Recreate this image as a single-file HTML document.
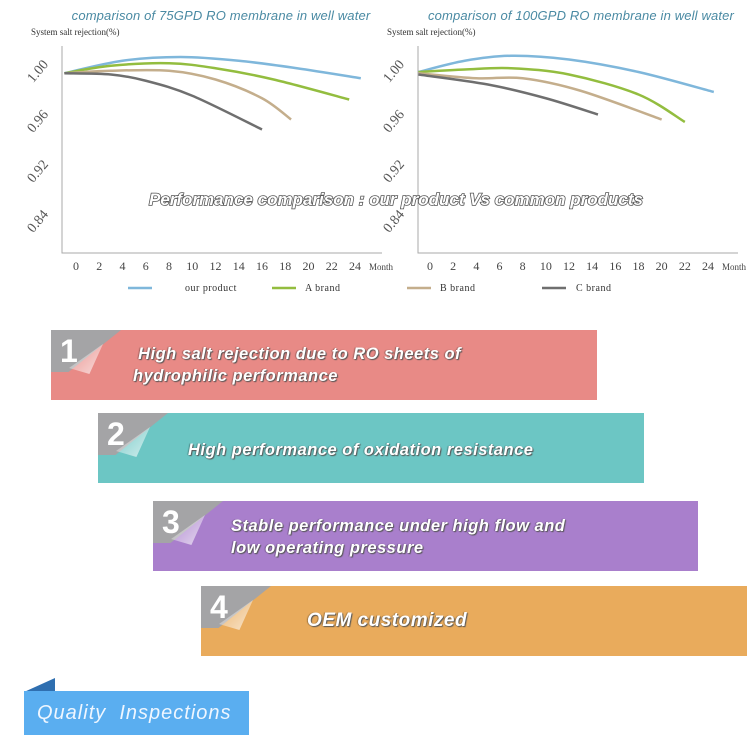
<!DOCTYPE html>
<html><head><meta charset="utf-8"><style>
body{margin:0;background:#fff;width:750px;height:749px;overflow:hidden;position:relative;font-family:"Liberation Sans",sans-serif}
svg{position:absolute;left:0;top:0}
.box{position:absolute;height:70px}
.tab{position:absolute;left:0;top:0;width:70px;height:42px;background:#a4a4a6;clip-path:polygon(0 0,100% 0,25% 100%,0 100%)}
.num{position:absolute;left:9px;top:3px;font:bold 32px "Liberation Sans",sans-serif;color:#fff}
.curl{position:absolute;left:18px;top:14px;width:34px;height:30px;background:linear-gradient(135deg,rgba(255,255,255,.1),rgba(255,255,255,.7));clip-path:polygon(100% 0,60% 100%,0 80%)}
.txt{position:absolute;color:#fff;font:italic bold 16.5px "Liberation Sans",sans-serif;letter-spacing:.5px;text-shadow:1px 1px 1px #555,-1px 0 1px rgba(0,0,0,.3);line-height:22px}
</style></head><body>
<svg id="chart" width="750" height="320"></svg>

<div class="box" style="left:51px;top:330px;width:546px;background:#e88a86"><div class="tab"></div><div class="num">1</div><div class="curl"></div><div class="txt" style="left:82px;top:13px">&nbsp;High salt rejection due to RO sheets of<br>hydrophilic performance</div></div>
<div class="box" style="left:98px;top:413px;width:546px;background:#6cc6c4"><div class="tab"></div><div class="num">2</div><div class="curl"></div><div class="txt" style="left:90px;top:26px">High performance of oxidation resistance</div></div>
<div class="box" style="left:153px;top:501px;width:545px;background:#a97fcc"><div class="tab"></div><div class="num">3</div><div class="curl"></div><div class="txt" style="left:78px;top:14px">Stable performance under high flow and<br>low operating pressure</div></div>
<div class="box" style="left:201px;top:586px;width:546px;background:#e9ab5c"><div class="tab"></div><div class="num">4</div><div class="curl"></div><div class="txt" style="left:106px;top:24px;font-size:19px">OEM customized</div></div>

<div style="position:absolute;left:24px;top:678px;width:31px;height:14px;background:#2f6fb0;clip-path:polygon(100% 0,100% 100%,0 100%)"></div>
<div style="position:absolute;left:24px;top:691px;width:225px;height:44px;background:#5aaef0"><span style="position:absolute;left:13px;top:11px;color:#eef6ff;font:italic 20px 'Liberation Sans',sans-serif;letter-spacing:1px">Quality&nbsp; Inspections</span></div>

<script>
const months=[0,2,4,6,8,10,12,14,16,18,20,22,24];
const yTicks=["1.00","0.96","0.92","0.84"];
const seriesNames=["our product","A brand","B brand","C brand"];
const colors=["#7fb7db","#93bd3f","#c4ae8c","#6f6f6f"];
// left chart (75GPD): [month, rejection]
const left75Our=[[-1,0.999],[4,1.009],[9,1.012],[14,1.009],[19,1.003],[24.5,0.995]];
const left75A=[[-1,0.999],[3,1.005],[8,1.007],[12,1.003],[17,0.994],[23.5,0.978]];
const left75B=[[-1,0.999],[3,1.001],[8,1.001],[12,0.994],[16,0.979],[18.5,0.962]];
const left75C=[[-1,0.999],[3,0.998],[6,0.993],[10,0.981],[16,0.954]];
// right chart (100GPD)
const right100Our=[[-1,1.000],[3,1.009],[7,1.013],[12,1.010],[18,1.000],[24.5,0.984]];
const right100A=[[-1,1.000],[3,1.002],[7,1.003],[12,0.998],[18,0.982],[22,0.960]];
const right100B=[[-1,0.999],[4,0.995],[8,0.995],[13,0.985],[20,0.962]];
const right100C=[[-1,0.998],[5,0.990],[10,0.979],[14.5,0.966]];
const panels=[
 {title:"comparison of 75GPD RO membrane in well water",ax:62,x0:76,x24:355,titleX:221,data:[left75Our,left75A,left75B,left75C]},
 {title:"comparison of 100GPD RO membrane in well water",ax:418,x0:430,x24:708,titleX:581,data:[right100Our,right100A,right100B,right100C]}
];
const NS="http://www.w3.org/2000/svg";
const svg=document.getElementById('chart');
function mk(t,a,txt){const e=document.createElementNS(NS,t);for(const k in a)e.setAttribute(k,a[k]);if(txt!==undefined)e.textContent=txt;svg.appendChild(e);return e;}
function yScale(v){return 72+(1.0-v)*1250;}
function path(pts){
 let d="M"+pts[0][0]+","+pts[0][1];
 for(let i=0;i<pts.length-1;i++){
  const p0=pts[i-1]||pts[i],p1=pts[i],p2=pts[i+1],p3=pts[i+2]||p2;
  const c1=[p1[0]+(p2[0]-p0[0])/6,p1[1]+(p2[1]-p0[1])/6],c2=[p2[0]-(p3[0]-p1[0])/6,p2[1]-(p3[1]-p1[1])/6];
  d+=" C"+c1+" "+c2+" "+p2;
 }
 return d;
}
panels.forEach((p,pi)=>{
 const xs=m=>p.x0+(p.x24-p.x0)*m/24;
 let t=mk('text',{x:p.titleX,y:20,'text-anchor':'middle','font-size':13,'font-style':'italic',fill:'#4a8aa3','font-family':'Liberation Sans, sans-serif','letter-spacing':'0.15'},p.title);
 
 t=mk('text',{x:p.ax-31,y:35,'font-size':9,fill:'#333','font-family':'Liberation Serif, serif'},"System salt rejection(%)");
 
 let a=mk('path',{d:`M${p.ax},46V253H${p.ax+320}`,stroke:'#aaa','stroke-width':1,fill:'none'});
 
 yTicks.forEach((lb,i)=>{const y=74+i*50;
  const e=mk('text',{x:p.ax-21,y:y,'font-size':14,fill:'#555','text-anchor':'middle','font-family':'Liberation Serif, serif',transform:`rotate(-50 ${p.ax-21} ${y})`},lb);
  });
 months.forEach(m=>{const e=mk('text',{x:xs(m),y:270,'font-size':12,fill:'#444','text-anchor':'middle','font-family':'Liberation Serif, serif'},m);
  });
 const u=mk('text',{x:xs(24)+14,y:270,'font-size':9,fill:'#444','font-family':'Liberation Serif, serif'},"Month");
 
 p.data.forEach((s,si)=>{const pts=s.map(d=>[xs(d[0]),yScale(d[1])]);
  const e=mk('path',{d:path(pts),stroke:colors[si],'stroke-width':2.5,fill:'none'});
  });
});
const legX=[128,272,407,542],legT=[185,305,440,576];
seriesNames.forEach((n,i)=>{
 const l=mk('line',{x1:legX[i],x2:legX[i]+24,y1:288,y2:288,stroke:colors[i],'stroke-width':2.5});
 
 const t=mk('text',{x:legT[i],y:291,'font-size':10,fill:'#333','font-family':'Liberation Serif, serif','letter-spacing':'0.5'},n);
 
});
const ov=mk('text',{x:396,y:205,'text-anchor':'middle','font-size':17,'font-weight':'bold','font-style':'italic',fill:'#fff',stroke:'#555','stroke-width':1.6,'paint-order':'stroke','font-family':'Liberation Sans, sans-serif'},"Performance comparison : our product Vs common products");

</script>
</body></html>
